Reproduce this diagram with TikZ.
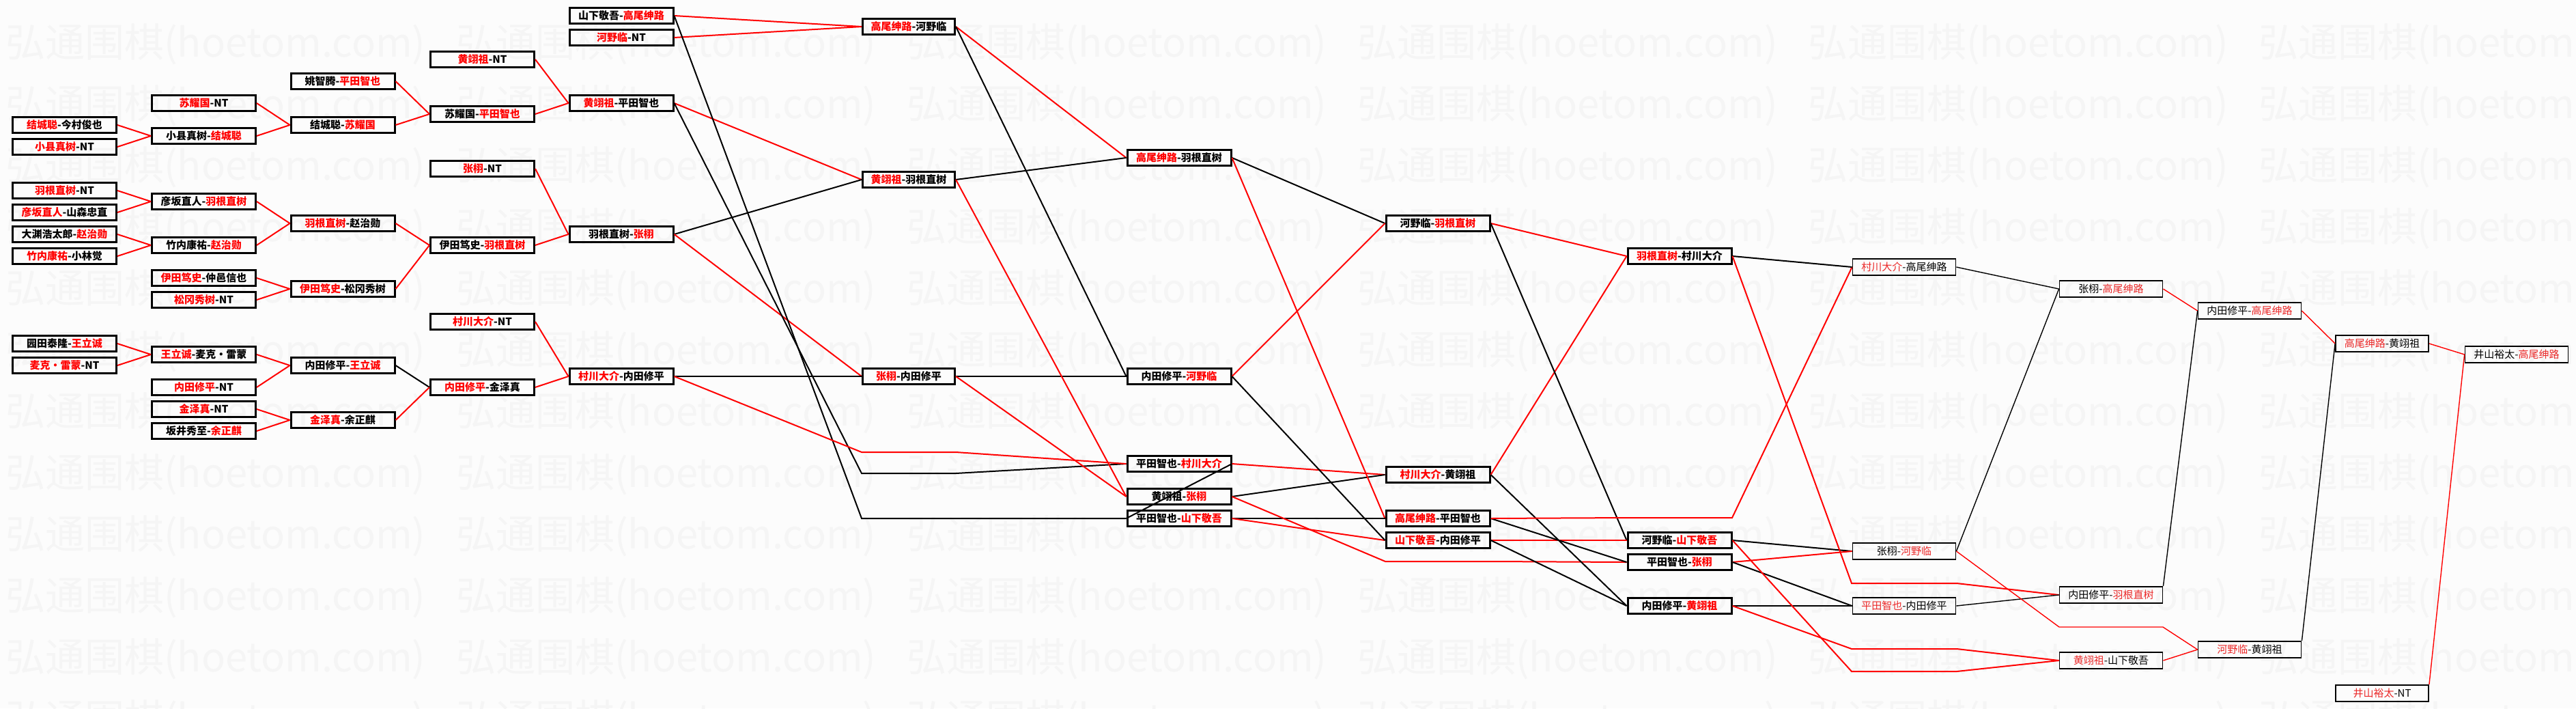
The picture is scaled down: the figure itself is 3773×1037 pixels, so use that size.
\documentclass[tikz,border=0pt]{standalone}
\usepackage{fontspec}
\setmainfont{Noto Sans CJK SC}

\definecolor{pagegray}{gray}{0.988}
\definecolor{wmgray}{gray}{0.96}
\definecolor{lightred}{RGB}{235,40,40}
\colorlet{namered}{red}
\newcommand{\redname}[1]{\textcolor{namered}{#1}}

\begin{document}
\begin{tikzpicture}[x=1pt,y=-1pt]
\tikzstyle{box}=[draw, line width=3pt, minimum width=152pt, minimum height=23pt, inner sep=0pt, font=\bfseries\fontsize{15}{15}\selectfont]
\tikzstyle{shortbox}=[box, minimum width=135pt]
\tikzstyle{thinbox}=[draw, line width=1.8pt, minimum width=151pt, minimum height=24pt, inner sep=0pt, font=\fontsize{15}{15}\selectfont, execute at begin node=\colorlet{namered}{lightred}]
\tikzstyle{shortthinbox}=[thinbox, minimum width=136pt]
\tikzstyle{win}=[red, line width=2pt]
\tikzstyle{lose}=[black, line width=2pt]
\tikzstyle{thinwin}=[red, line width=1.4pt]
\tikzstyle{thinlose}=[black, line width=1.4pt]

\useasboundingbox[fill=pagegray] (0,0) rectangle (3773,1037);

% watermark
\begin{scope}
\clip (0,0) rectangle (3773,1037);
\foreach \row in {65,155,...,1055}
  \foreach \col in {8,668,...,3308}
    \node[anchor=west, inner sep=0pt, text=wmgray, font=\fontsize{58}{58}\selectfont] (wm-\row-\col) at (\col,\row) {弘通围棋(hoetom.com)};
\end{scope}

% round 1
\node[box] (n1a) at (94.5,183) {\redname{结城聪}-今村俊也};
\node[box] (n1b) at (94.5,215) {\redname{小县真树}-NT};
\node[box] (n1c) at (94.5,279) {\redname{羽根直树}-NT};
\node[box] (n1d) at (94.5,311) {\redname{彦坂直人}-山森忠直};
\node[box] (n1e) at (94.5,343) {大渊浩太郎-\redname{赵治勋}};
\node[box] (n1f) at (94.5,375) {\redname{竹内康祐}-小林觉};
\node[box] (n1g) at (94.5,503) {园田泰隆-\redname{王立诚}};
\node[box] (n1h) at (94.5,535) {\redname{麦克・雷蒙}-NT};

% round 2
\node[box] (n2a) at (298.5,151) {\redname{苏耀国}-NT};
\node[box] (n2b) at (298.5,199) {小县真树-\redname{结城聪}};
\node[box] (n2c) at (298.5,295) {彦坂直人-\redname{羽根直树}};
\node[box] (n2d) at (298.5,359) {竹内康祐-\redname{赵治勋}};
\node[box] (n2e) at (298.5,407) {\redname{伊田笃史}-仲邑信也};
\node[box] (n2f) at (298.5,439) {\redname{松冈秀树}-NT};
\node[box] (n2g) at (298.5,519) {\redname{王立诚}-麦克・雷蒙};
\node[box] (n2h) at (298.5,567) {\redname{内田修平}-NT};
\node[box] (n2i) at (298.5,599) {\redname{金泽真}-NT};
\node[box] (n2j) at (298.5,631) {坂井秀至-\redname{余正麒}};

% round 3
\node[box] (n3a) at (502,119) {姚智腾-\redname{平田智也}};
\node[box] (n3b) at (502,183) {结城聪-\redname{苏耀国}};
\node[box] (n3c) at (502,327) {\redname{羽根直树}-赵治勋};
\node[box] (n3d) at (502,423) {\redname{伊田笃史}-松冈秀树};
\node[box] (n3e) at (502,535) {内田修平-\redname{王立诚}};
\node[box] (n3f) at (502,615) {\redname{金泽真}-余正麒};

% round 4
\node[box] (n4a) at (706.5,87) {\redname{黄翊祖}-NT};
\node[box] (n4b) at (706.5,167) {苏耀国-\redname{平田智也}};
\node[box] (n4c) at (706.5,247) {\redname{张栩}-NT};
\node[box] (n4d) at (706.5,359) {伊田笃史-\redname{羽根直树}};
\node[box] (n4e) at (706.5,471) {\redname{村川大介}-NT};
\node[box] (n4f) at (706.5,567) {\redname{内田修平}-金泽真};

% round 5
\node[box] (n5a) at (910,23) {山下敬吾-\redname{高尾绅路}};
\node[box] (n5b) at (910,55) {\redname{河野临}-NT};
\node[box] (n5c) at (910,151) {\redname{黄翊祖}-平田智也};
\node[box] (n5d) at (910,343) {羽根直树-\redname{张栩}};
\node[box] (n5e) at (910,551) {\redname{村川大介}-内田修平};

% round 6
\node[shortbox] (n6a) at (1331,39) {\redname{高尾绅路}-河野临};
\node[shortbox] (n6b) at (1331,263) {\redname{黄翊祖}-羽根直树};
\node[shortbox] (n6c) at (1331,551) {\redname{张栩}-内田修平};

% round 7
\node[box] (n7a) at (1727,231) {\redname{高尾绅路}-羽根直树};
\node[box] (n7b) at (1727,551) {内田修平-\redname{河野临}};
\node[box] (n7c) at (1727,679) {平田智也-\redname{村川大介}};
\node[box] (n7d) at (1727,727) {黄翊祖-\redname{张栩}};
\node[box] (n7e) at (1727,759) {平田智也-\redname{山下敬吾}};

% round 8
\node[box] (n8a) at (2106,327) {河野临-\redname{羽根直树}};
\node[box] (n8b) at (2106,695) {\redname{村川大介}-黄翊祖};
\node[box] (n8c) at (2106,759) {\redname{高尾绅路}-平田智也};
\node[box] (n8d) at (2106,791) {\redname{山下敬吾}-内田修平};

% round 9
\node[box] (n9a) at (2460,375) {\redname{羽根直树}-村川大介};
\node[box] (n9b) at (2460,791) {河野临-\redname{山下敬吾}};
\node[box] (n9c) at (2460,823) {平田智也-\redname{张栩}};
\node[box] (n9d) at (2460,887) {内田修平-\redname{黄翊祖}};

% round 10
\node[thinbox] (n10a) at (2789,391) {\redname{村川大介}-高尾绅路};
\node[thinbox] (n10b) at (2789,807) {张栩-\redname{河野临}};
\node[thinbox] (n10c) at (2789,887) {\redname{平田智也}-内田修平};

% round 11
\node[thinbox] (n11a) at (3092,423) {张栩-\redname{高尾绅路}};
\node[thinbox] (n11b) at (3092,871) {内田修平-\redname{羽根直树}};
\node[thinbox] (n11c) at (3092,967) {\redname{黄翊祖}-山下敬吾};

% round 12
\node[thinbox] (n12a) at (3295,455) {内田修平-\redname{高尾绅路}};
\node[thinbox] (n12b) at (3295,951) {\redname{河野临}-黄翊祖};

% round 13 and final
\node[shortthinbox] (n13a) at (3489,503) {\redname{高尾绅路}-黄翊祖};
\node[shortthinbox] (n13b) at (3489,1015) {\redname{井山裕太}-NT};
\node[thinbox] (n14a) at (3686,519) {井山裕太-\redname{高尾绅路}};

% round 1 -> 2
\draw[win] (n1a.east) -- (n2b.west);
\draw[win] (n1b.east) -- (n2b.west);
\draw[win] (n1c.east) -- (n2c.west);
\draw[win] (n1d.east) -- (n2c.west);
\draw[win] (n1e.east) -- (n2d.west);
\draw[win] (n1f.east) -- (n2d.west);
\draw[win] (n1g.east) -- (n2g.west);
\draw[win] (n1h.east) -- (n2g.west);

% round 2 -> 3
\draw[win] (n2a.east) -- (n3b.west);
\draw[win] (n2b.east) -- (n3b.west);
\draw[win] (n2c.east) -- (n3c.west);
\draw[win] (n2d.east) -- (n3c.west);
\draw[win] (n2e.east) -- (n3d.west);
\draw[win] (n2f.east) -- (n3d.west);
\draw[win] (n2g.east) -- (n3e.west);
\draw[win] (n2h.east) -- (n3e.west);
\draw[win] (n2i.east) -- (n3f.west);
\draw[win] (n2j.east) -- (n3f.west);

% round 3 -> 4
\draw[win] (n3a.east) -- (n4b.west);
\draw[win] (n3b.east) -- (n4b.west);
\draw[win] (n3c.east) -- (n4d.west);
\draw[win] (n3d.east) -- (n4d.west);
\draw[lose] (n3e.east) -- (n4f.west);
\draw[win] (n3f.east) -- (n4f.west);

% round 4 -> 5
\draw[win] (n4a.east) -- (n5c.west);
\draw[win] (n4b.east) -- (n5c.west);
\draw[win] (n4c.east) -- (n5d.west);
\draw[win] (n4d.east) -- (n5d.west);
\draw[win] (n4e.east) -- (n5e.west);
\draw[win] (n4f.east) -- (n5e.west);

% round 5 -> 6, 7
\draw[win] (n5a.east) -- (n6a.west);
\draw[win] (n5b.east) -- (n6a.west);
\draw[win] (n5c.east) -- (n6b.west);
\draw[lose] (n5d.east) -- (n6b.west);
\draw[win] (n5d.east) -- (n6c.west);
\draw[lose] (n5e.east) -- (n6c.west);
\draw[lose] (n5a.east) -- (1262,759) -- (n7e.west);
\draw[lose] (n5c.east) -- (1262,693) -- (1400,693) -- (n7c.west);
\draw[win] (n5e.east) -- (1262,662) -- (1400,662) -- (n7c.west);

% round 6 -> 7
\draw[win] (n6a.east) -- (n7a.west);
\draw[lose] (n6b.east) -- (n7a.west);
\draw[lose] (n6a.east) -- (n7b.west);
\draw[lose] (n6c.east) -- (n7b.west);
\draw[win] (n6b.east) -- (n7d.west);
\draw[win] (n6c.east) -- (n7d.west);
\draw[lose] (n7c.east) -- (n7e.west);

% round 7 -> 8, 9
\draw[lose] (n7a.east) -- (n8a.west);
\draw[win] (n7b.east) -- (n8a.west);
\draw[win] (n7c.east) -- (n8b.west);
\draw[lose] (n7d.east) -- (n8b.west);
\draw[win] (n7a.east) -- (n8c.west);
\draw[lose] (n7e.east) -- (n8c.west);
\draw[win] (n7e.east) -- (n8d.west);
\draw[lose] (n7b.east) -- (n8d.west);
\draw[win] (n7d.east) -- (2029,822) -- (2183,822) -- (n9c.west);

% round 8 -> 9, 10
\draw[win] (n8a.east) -- (n9a.west);
\draw[win] (n8b.east) -- (n9a.west);
\draw[lose] (n8a.east) -- (n9b.west);
\draw[win] (n8d.east) -- (n9b.west);
\draw[lose] (n8c.east) -- (n9c.west);
\draw[lose] (n8b.east) -- (n9d.west);
\draw[lose] (n8d.east) -- (n9d.west);
\draw[win] (n8c.east) -- (2383,758) -- (2537,758) -- (n10a.west);

% round 9 -> 10, 11
\draw[lose] (n9a.east) -- (n10a.west);
\draw[lose] (n9b.east) -- (n10b.west);
\draw[win] (n9c.east) -- (n10b.west);
\draw[lose] (n9c.east) -- (n10c.west);
\draw[lose] (n9d.east) -- (n10c.west);
\draw[win] (n9a.east) -- (2712,854) -- (2866,854) -- (n11b.west);
\draw[win] (n9d.east) -- (2712,950) -- (2866,950) -- (n11c.west);
\draw[win] (n9b.east) -- (2712,983) -- (2866,983) -- (n11c.west);

% round 10 -> 11, 12
\draw[thinlose] (n10a.east) -- (n11a.west);
\draw[thinlose] (n10b.east) -- (n11a.west);
\draw[thinlose] (n10c.east) -- (n11b.west);
\draw[thinwin] (n10b.east) -- (3016,918) -- (3168,918) -- (n12b.west);

% round 11 -> final
\draw[thinwin] (n11a.east) -- (n12a.west);
\draw[thinlose] (n11b.north east) -- (n12a.west);
\draw[thinwin] (n11c.east) -- (n12b.west);
\draw[thinwin] (n12a.east) -- (n13a.west);
\draw[thinlose] (n12b.north east) -- (n13a.west);
\draw[thinwin] (n13a.east) -- (n14a.west);
\draw[thinwin] (n13b.north east) -- (n14a.west);
\end{tikzpicture}
\end{document}
